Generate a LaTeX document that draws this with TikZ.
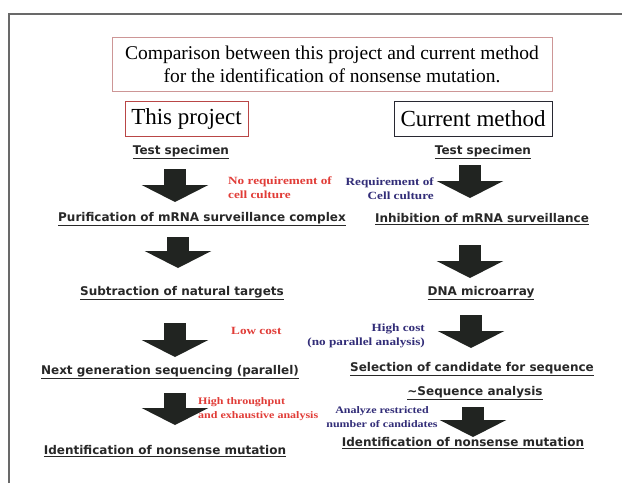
\documentclass[tikz,border=0pt]{standalone}
\usepackage{fontspec}
\setmainfont{Liberation Serif}
\newfontfamily\stagefont{DejaVu Sans}
\newfontfamily\notefont[FakeStretch=1.2]{Liberation Serif}
\usetikzlibrary{arrows.meta}
\definecolor{framegray}{RGB}{105,105,105}
\definecolor{titleedge}{RGB}{205,150,150}
\definecolor{projedge}{RGB}{185,70,70}
\definecolor{curedge}{RGB}{40,40,50}
\definecolor{stageink}{RGB}{40,40,40}
\definecolor{prored}{RGB}{225,60,55}
\definecolor{connavy}{RGB}{50,45,120}
\definecolor{arrowfill}{RGB}{33,36,33}
\begin{document}
\begin{tikzpicture}[x=1pt,y=-1pt,
  stage/.style={font=\stagefont\bfseries\fontsize{12}{14}\selectfont, text=stageink, inner sep=0pt},
  pronote/.style={font=\notefont\bfseries\fontsize{11}{14}\selectfont, text=prored, inner sep=0pt, align=left},
  connote/.style={font=\notefont\bfseries\fontsize{11}{14}\selectfont, text=connavy, inner sep=0pt},
  smallnote/.style={font=\notefont\bfseries\fontsize{10}{14}\selectfont},
  blockarr/.style={draw=arrowfill, line width=22pt, -{Triangle[width=66pt,length=17pt]}},
  headbox/.style={draw, line width=1pt, inner sep=0pt, font=\fontsize{23}{25}\selectfont, minimum height=35pt}
]
\useasboundingbox (0,0) rectangle (622,483);
\fill[white] (0,0) rectangle (622,483);
% outer frame (top and left edges)
\draw[framegray, line width=2pt] (9,483) -- (9,14) -- (622,14);

% heading
\node[draw=titleedge, line width=1pt, minimum width=440pt, minimum height=54pt, align=center,
      font=\fontsize{19.5}{23}\selectfont] (title) at (332,64)
  {Comparison between this project and current method\\for the identification of nonsense mutation.};
\node[headbox, draw=projedge, minimum width=123pt] (proj) at (186.5,118.5) {This project};
\node[headbox, draw=curedge, minimum width=158pt] (cur) at (473,118.5) {Current method};

% left column: this project
\node[stage] (lp0) at (181,152) {\underline{Test specimen}};
\node[stage] (lp1) at (202,219) {\underline{Purification of mRNA surveillance complex}};
\node[stage] (lp2) at (182,293) {\underline{Subtraction of natural targets}};
\node[stage] (lp3) at (170,372) {\underline{Next generation sequencing (parallel)}};
\node[stage] (lp4) at (165,451) {\underline{Identification of nonsense mutation}};

% right column: current method
\node[stage] (rc0) at (483,152) {\underline{Test specimen}};
\node[stage] (rc1) at (482,219) {\underline{Inhibition of mRNA surveillance}};
\node[stage] (rc2) at (481,293) {\underline{DNA microarray}};
\node[stage] (rc3) at (472,369) {\underline{Selection of candidate for sequence}};
\node[stage] (rc3b) at (475,393) {\underline{\textasciitilde Sequence analysis}};
\node[stage] (rc4) at (463,443) {\underline{Identification of nonsense mutation}};

% block arrows, left
\coordinate (la1s) at (175,169); \coordinate (la1e) at (175,202);
\coordinate (la2s) at (178,237); \coordinate (la2e) at (178,268);
\coordinate (la3s) at (175,323); \coordinate (la3e) at (175,357);
\coordinate (la4s) at (175,393); \coordinate (la4e) at (175,425);
% block arrows, right
\coordinate (ra1s) at (470,165); \coordinate (ra1e) at (470,198);
\coordinate (ra2s) at (470,245); \coordinate (ra2e) at (470,278);
\coordinate (ra3s) at (471,315); \coordinate (ra3e) at (471,348);
\coordinate (ra4s) at (473,407); \coordinate (ra4e) at (473,437);
\foreach \a in {la1,la2,la3,la4,ra1,ra2,ra3,ra4}
  \draw[blockarr] (\a s) -- (\a e);

% notes for this project
\node[pronote, anchor=west] (pn1) at (228,187.5) {No requirement of\\cell culture};
\node[pronote, anchor=west] (pn2) at (231,331) {Low cost};
\node[pronote, smallnote, anchor=west] (pn3) at (198,409) {High throughput\\and exhaustive analysis};

% notes for current method
\node[connote, anchor=east, align=right] (cn1) at (434,189) {Requirement of\\Cell culture};
\node[connote, anchor=east, align=right] (cn2) at (425,336) {High cost\\(no parallel analysis)};
\node[connote, smallnote, align=center] (cn3) at (382,417) {Analyze restricted\\number of candidates};
\end{tikzpicture}
\end{document}
